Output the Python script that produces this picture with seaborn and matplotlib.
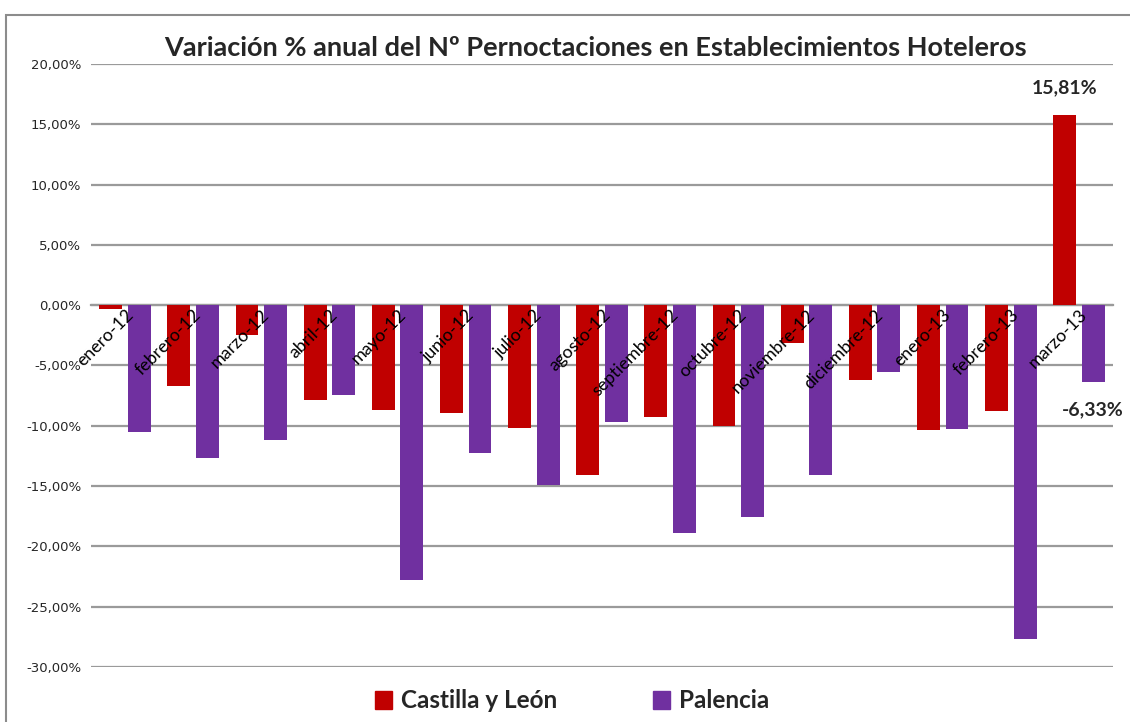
import matplotlib
matplotlib.use("Agg")
import matplotlib.pyplot as plt
import seaborn as sns
import pandas as pd
from matplotlib.patches import Rectangle

categories = ["enero-12", "febrero-12", "marzo-12", "abril-12", "mayo-12", "junio-12",
              "julio-12", "agosto-12", "septiembre-12", "octubre-12", "noviembre-12",
              "diciembre-12", "enero-13", "febrero-13", "marzo-13"]
castilla = [-0.28, -6.66, -2.49, -7.85, -8.68, -8.90, -10.22, -14.07, -9.31, -10.00,
            -3.15, -6.24, -10.33, -8.79, 15.81]
palencia = [-10.50, -12.66, -11.14, -7.46, -22.80, -12.27, -14.90, -9.70, -18.85, -17.60,
            -14.10, -5.52, -10.28, -27.70, -6.33]
series_names = ["Castilla y León", "Palencia"]
colors = ["#C00000", "#7030A0"]
yticks = [-30, -25, -20, -15, -10, -5, 0, 5, 10, 15, 20]

df = pd.DataFrame({
    "mes": categories * 2,
    "valor": castilla + palencia,
    "serie": [series_names[0]] * len(categories) + [series_names[1]] * len(categories),
})

sns.set_theme(style="white")
plt.rcParams["font.family"] = ["Lato", "DejaVu Sans"]

fig = plt.figure(figsize=(11.3, 7.22), dpi=100)
ax = fig.add_axes([91 / 1130, 1 - 667 / 722, (1113 - 91) / 1130, (667 - 64) / 722])

sns.barplot(data=df, x="mes", y="valor", hue="serie", order=categories,
            hue_order=series_names, palette=colors, width=0.84, gap=0.2,
            ax=ax, legend=False, saturation=1, edgecolor="none", zorder=2)

ax.set_ylim(-30, 20)
ax.set_xlim(-0.5, len(categories) - 0.5)
ax.set_yticks(yticks)
ax.set_yticklabels([f"{v:.2f}".replace(".", ",") + "%" for v in yticks],
                   family="DejaVu Sans", fontsize=9.5)
ax.grid(axis="y", color="#9A9A9A", linewidth=1.6)
ax.grid(axis="x", visible=False)
ax.yaxis.set_zorder(0.5)
ax.xaxis.set_zorder(5)
ax.tick_params(axis="y", length=0, pad=7)
ax.set_xlabel("")
ax.set_ylabel("")
for s in ["top", "right", "left"]:
    ax.spines[s].set_visible(False)
ax.spines["bottom"].set_position(("data", 0))
ax.spines["bottom"].set_color("#9A9A9A")
ax.spines["bottom"].set_linewidth(1.6)
ax.spines["bottom"].set_zorder(1)
ax.tick_params(axis="x", length=0, pad=1)
plt.setp(ax.get_xticklabels(), rotation=45, ha="right", rotation_mode="anchor",
         fontsize=12.8, color="black")

# data labels for the last category
last_c = ax.containers[0][len(categories) - 1]
last_p = ax.containers[1][len(categories) - 1]
ax.annotate(f"{castilla[-1]:.2f}".replace(".", ",") + "%",
            xy=(last_c.get_x() + last_c.get_width() / 2, last_c.get_height()),
            xytext=(0, 13), textcoords="offset points", ha="center", va="bottom",
            fontsize=14, fontweight="bold")
ax.annotate(f"{palencia[-1]:.2f}".replace(".", ",") + "%",
            xy=(last_p.get_x() + last_p.get_width() / 2, last_p.get_height()),
            xytext=(0, -20), textcoords="offset points", ha="center", va="center",
            fontsize=14, fontweight="bold")

fig.text(595 / 1130, 1 - 48 / 722,
         "Variación % anual del Nº Pernoctaciones en Establecimientos Hoteleros",
         ha="center", va="center", fontsize=19.5, fontweight="bold")

handles = [Rectangle((0, 0), 1, 1, color=c) for c in colors]
fig.legend(handles, series_names, loc="center", bbox_to_anchor=(572 / 1130, 1 - 701 / 722),
           ncol=2, frameon=False, prop={"size": 17.5, "weight": "bold"},
           handlelength=0.7, handleheight=0.7, handletextpad=0.35, columnspacing=3.95)

fig.patches.append(Rectangle((6 / 1130, -0.05), 1.2, 1.05 - 15 / 722, fill=False,
                             edgecolor="#8C8C8C", linewidth=1.5,
                             transform=fig.transFigure, figure=fig))

fig.savefig("out.png", dpi=100)
